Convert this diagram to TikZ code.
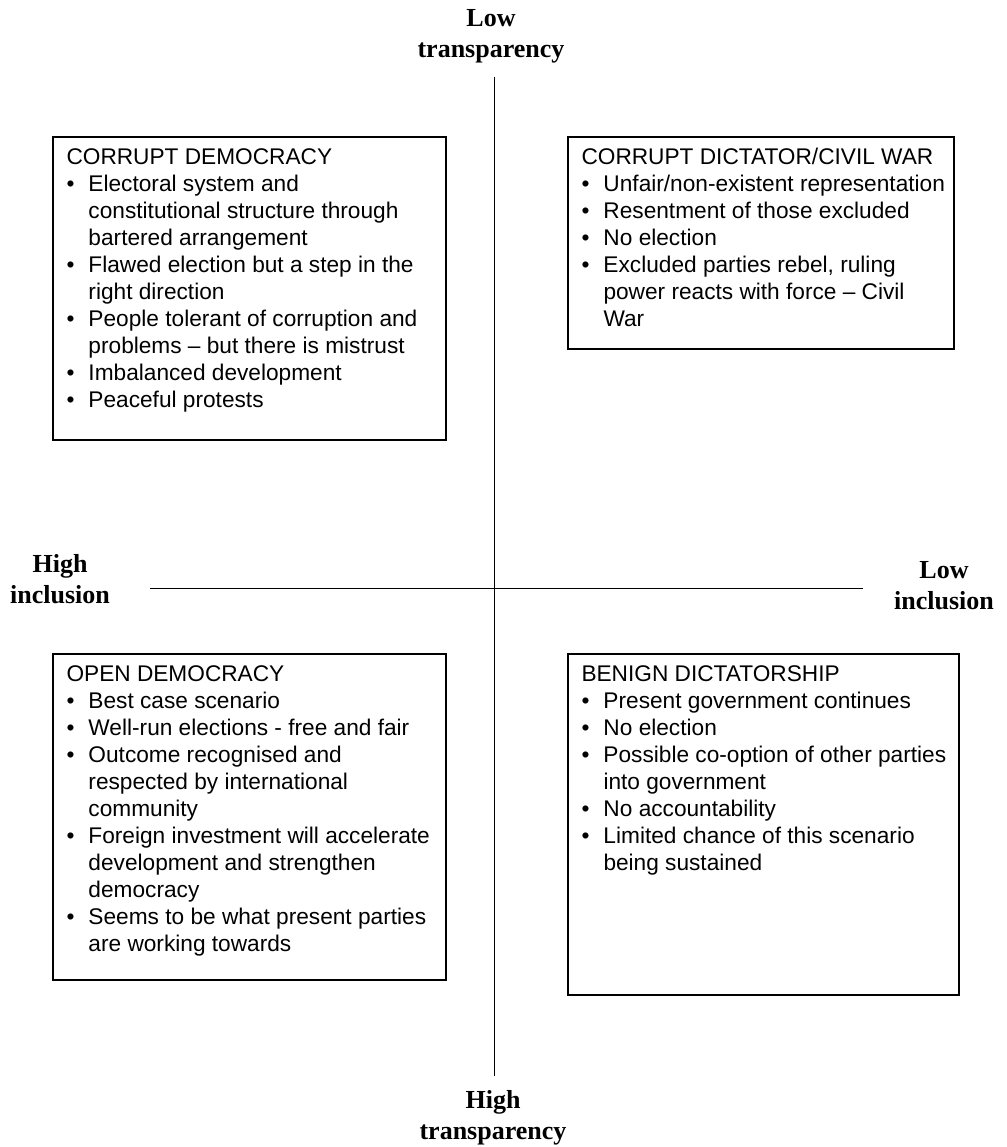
\documentclass[tikz,border=0pt]{standalone}
\usepackage{fontspec}
\newfontfamily\boxfont{Liberation Sans}
\newfontfamily\axisfont{Liberation Serif}
\newcommand{\bul}{\makebox[16.5pt][l]{\textbullet}}
\newcommand{\cnt}{\hspace*{16.5pt}}

\tikzset{every picture/.style={line width=0.75pt}}
\tikzset{
  scenariobox/.style={line width=1.5pt},
  scenariotext/.style={anchor=north west, inner sep=0pt, align=left, font=\boxfont\fontsize{17}{20.25}\selectfont},
  axislabel/.style={anchor=north, inner sep=0pt, align=center, font=\axisfont\bfseries\fontsize{19.5}{23.25}\selectfont}
}

\begin{document}
\begin{tikzpicture}[x=0.75pt,y=0.75pt,yscale=-1,xscale=1]
\useasboundingbox (0,0) rectangle (1007,1147);

%Axis end points
\coordinate (vtop) at (494,77);
\coordinate (vbot) at (494,1076);
\coordinate (hleft) at (150,588);
\coordinate (hright) at (863,588);

%Straight Lines
\draw    (vtop) -- (vbot) ;
%Straight Lines
\draw    (hleft) -- (hright) ;

%Shape: Rectangle
\draw [scenariobox]   (53,137) rectangle (446,440) ;
%Shape: Rectangle
\draw [scenariobox]   (568,137) rectangle (954,349) ;
%Shape: Rectangle
\draw [scenariobox]   (53,654) rectangle (446,980) ;
%Shape: Rectangle
\draw [scenariobox]   (568,654) rectangle (959,995) ;

% Text Node
\draw (491,4) node (lowtrans) [axislabel]    {\strut Low\\transparency};
% Text Node
\draw (493,1086) node (hightrans) [axislabel]    {\strut High\\transparency};
% Text Node
\draw (60,550) node (highincl) [axislabel]    {\strut High\\inclusion};
% Text Node
\draw (944,556) node (lowincl) [axislabel]    {\strut Low\\inclusion};

% Text Node
\draw (66,145) node (corruptdem) [scenariotext]    {\strut CORRUPT DEMOCRACY\\
\bul Electoral system and\\
\cnt constitutional structure through\\
\cnt bartered arrangement\\
\bul Flawed election but a step in the\\
\cnt right direction\\
\bul People tolerant of corruption and\\
\cnt problems \textendash{} but there is mistrust\\
\bul Imbalanced development\\
\bul Peaceful protests};
% Text Node
\draw (581,145) node (corruptdict) [scenariotext]    {\strut CORRUPT DICTATOR/CIVIL WAR\\
\bul Unfair/non-existent representation\\
\bul Resentment of those excluded\\
\bul No election\\
\bul Excluded parties rebel, ruling\\
\cnt power reacts with force \textendash{} Civil\\
\cnt War};
% Text Node
\draw (66,662) node (opendem) [scenariotext]    {\strut OPEN DEMOCRACY\\
\bul Best case scenario\\
\bul Well-run elections - free and fair\\
\bul Outcome recognised and\\
\cnt respected by international\\
\cnt community\\
\bul Foreign investment will accelerate\\
\cnt development and strengthen\\
\cnt democracy\\
\bul Seems to be what present parties\\
\cnt are working towards};
% Text Node
\draw (581,662) node (benigndict) [scenariotext]    {\strut BENIGN DICTATORSHIP\\
\bul Present government continues\\
\bul No election\\
\bul Possible co-option of other parties\\
\cnt into government\\
\bul No accountability\\
\bul Limited chance of this scenario\\
\cnt being sustained};

\end{tikzpicture}
\end{document}
